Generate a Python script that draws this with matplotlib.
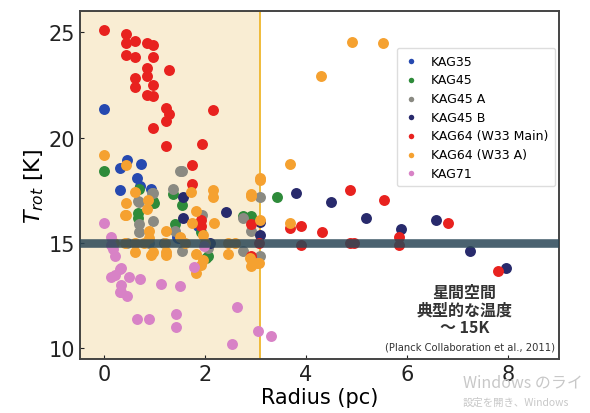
import matplotlib.pyplot as plt
from matplotlib.patches import Rectangle

# Radius (pc) and rotational temperature (K) per region
kag35_r = [0.0, 0.45, 0.32, 0.73, 0.65, 0.71, 0.32, 0.94, 1.86, 1.44, 1.47]
kag35_t = [21.35, 18.95, 18.55, 18.75, 18.1, 17.7, 17.5, 17.55, 15.8, 15.3, 15.25]

kag45_r = [0.0, 0.7, 0.98, 0.68, 0.68, 1.37, 1.55, 0.99, 1.4, 2.03, 2.75, 2.92, 3.42, 1.93, 2.07]
kag45_t = [18.4, 17.55, 17.0, 16.4, 16.2, 17.3, 16.8, 16.9, 15.9, 14.3, 16.3, 16.3, 17.2, 15.5, 14.4]

kag45a_r = [1.54, 1.37, 0.98, 0.69, 0.69, 0.69, 0.98, 1.4, 1.54, 1.95, 2.07, 2.75, 2.92,
            3.08, 3.08, 2.75, 1.5, 0.96, 0.68, 0.9, 1.2, 0.45]
kag45a_t = [18.4, 17.55, 17.35, 16.95, 15.9, 15.5, 16.05, 15.55, 14.6, 16.35, 14.75, 14.6, 15.55,
            17.2, 14.4, 16.2, 18.4, 17.35, 17.0, 15.0, 15.0, 15.0]

kag45b_r = [1.56, 1.56, 2.42, 3.09, 3.09, 3.8, 4.5, 5.18, 5.87, 6.56, 7.25, 7.95, 1.5, 2.1]
kag45b_t = [17.2, 16.2, 16.45, 16.0, 15.4, 17.35, 16.95, 16.2, 15.65, 16.1, 14.6, 13.8, 15.25, 15.0]

kag64m_r = [0.0, 0.44, 0.44, 0.61, 0.86, 0.98, 0.44, 0.61, 0.98, 0.86, 1.29, 0.86, 0.61, 0.61,
            0.98, 0.86, 0.98, 1.23, 1.29, 1.23, 2.16, 0.98, 1.23, 1.94, 1.74, 1.74, 1.93, 1.93,
            2.91, 3.07, 2.91, 3.68, 3.89, 3.89, 4.31, 4.87, 4.87, 4.94, 5.54, 5.84, 5.84, 6.81, 7.8]
kag64m_t = [25.1, 24.9, 24.5, 24.6, 24.5, 24.4, 23.9, 23.8, 23.8, 23.3, 23.2, 22.9, 22.8, 22.4,
            22.5, 22.0, 21.95, 21.4, 21.1, 20.8, 21.3, 20.45, 19.6, 19.7, 18.7, 17.8, 16.1, 15.8,
            15.9, 15.0, 14.4, 15.7, 15.8, 14.9, 15.5, 17.5, 15.0, 15.0, 17.05, 15.3, 14.9, 15.95, 13.65]

kag64a_r = [0.0, 0.44, 0.61, 0.44, 0.88, 1.73, 2.16, 2.16, 2.92, 3.09, 4.9, 5.53, 4.3, 3.68,
            3.68, 3.09, 3.02, 0.44, 0.86, 0.9, 0.9, 0.61, 0.98, 1.23, 1.23, 1.74, 1.83, 1.97,
            2.18, 1.83, 1.97, 1.93, 1.83, 2.46, 2.46, 2.91, 3.08, 2.89, 2.92, 3.06, 1.21, 0.42,
            1.24, 0.94, 0.42, 0.61, 0.2, 0.8, 1.6, 2.0, 2.6, 1.5]
kag64a_t = [19.15, 18.7, 17.4, 16.9, 17.05, 17.4, 17.5, 17.2, 17.3, 18.1, 24.55, 24.5, 22.9, 18.75,
            15.95, 16.1, 14.05, 16.35, 16.6, 15.55, 15.25, 14.55, 14.55, 15.55, 14.55, 15.95, 16.5, 15.4,
            15.95, 14.5, 14.2, 13.95, 13.6, 15.0, 14.5, 17.25, 18.0, 14.3, 13.9, 14.05, 15.0, 16.35,
            14.45, 14.45, 15.0, 15.0, 15.0, 15.0, 15.0, 15.0, 15.0, 15.3]

kag71_r = [0.0, 0.15, 0.15, 0.18, 0.22, 0.22, 0.15, 0.32, 0.35, 0.5, 0.71, 0.35, 0.35, 0.45,
           0.32, 1.13, 1.5, 1.43, 1.43, 0.65, 0.9, 2.64, 3.04, 2.53, 3.3, 1.79, 1.98]
kag71_t = [15.95, 15.3, 14.9, 14.7, 14.4, 13.5, 13.4, 13.75, 13.8, 13.4, 13.3, 13.0, 12.7, 12.5,
           12.7, 13.05, 12.95, 11.65, 11.0, 11.4, 11.4, 11.95, 10.85, 10.2, 10.6, 13.85, 14.85]

series = [
    ("KAG35", kag35_r, kag35_t, "#2649b0"),
    ("KAG45", kag45_r, kag45_t, "#2e8b3a"),
    ("KAG45 A", kag45a_r, kag45a_t, "#8a8a82"),
    ("KAG45 B", kag45b_r, kag45b_t, "#282a6c"),
    ("KAG64 (W33 Main)", kag64m_r, kag64m_t, "#e8221f"),
    ("KAG64 (W33 A)", kag64a_r, kag64a_t, "#f5a130"),
    ("KAG71", kag71_r, kag71_t, "#d882c6"),
]

ism_temp = 15
shade_edge = 3.09

fig = plt.figure(figsize=(5.9, 4.14), dpi=100)
ax = fig.add_axes([80 / 590, 54 / 414, 479 / 590, 348 / 414])

ax.set_xlim(-0.47, 9.0)
ax.set_ylim(9.5, 26.0)

# shaded inner region
ax.add_patch(Rectangle((-0.47, 9.5), shade_edge + 0.47, 16.5, facecolor="#f9edd3",
                       edgecolor="#efb62c", linewidth=1.3, zorder=0))

for name, r, t, c in series:
    ax.scatter(r, t, s=62, color=c, label=name, zorder=2, linewidths=0)

ax.axhline(ism_temp, color="#2a4757", linewidth=6.2, alpha=0.85, zorder=3)

ax.set_xticks([0, 2, 4, 6, 8])
ax.set_yticks([10, 15, 20, 25])
ax.tick_params(direction="in", length=3, labelsize=15, colors="#222222")
for s in ax.spines.values():
    s.set_color("#444444")
    s.set_linewidth(1.4)

ax.set_xlabel("Radius (pc)", fontsize=15, labelpad=2)
ax.set_ylabel("$T_{rot}$ [K]", fontsize=16, labelpad=2)

leg = ax.legend(loc="upper right", bbox_to_anchor=(0.992, 0.894), borderaxespad=0,
                fontsize=9, markerscale=0.5, handlelength=1.2, handletextpad=1.0,
                labelspacing=0.45, borderpad=0.55, frameon=True, framealpha=1.0)
leg.get_frame().set_edgecolor("#dddddd")

jp = ["Noto Sans CJK JP", "DejaVu Sans"]
ax.text(7.13, 11.85, "星間空間\n典型的な温度\n～ 15K", ha="center", va="center",
        fontsize=11.5, fontweight="bold", color="#333333", family=jp, linespacing=1.15, zorder=4)
ax.text(8.93, 10.1, "(Planck Collaboration et al., 2011)", ha="right", va="center",
        fontsize=7.2, color="#333333", zorder=4)

# screen overlay text seen in the reference (cut at the right edge)
fig.text(463 / 590, 1 - 383 / 414, "Windows のライ", fontsize=11.5, color="#c8c8c8",
         family=jp, va="center", ha="left")
fig.text(463 / 590, 1 - 403 / 414, "設定を開き、Windows", fontsize=7.5,
         color="#c8c8c8", family=jp, va="center", ha="left")

fig.savefig("out.png", dpi=100)
